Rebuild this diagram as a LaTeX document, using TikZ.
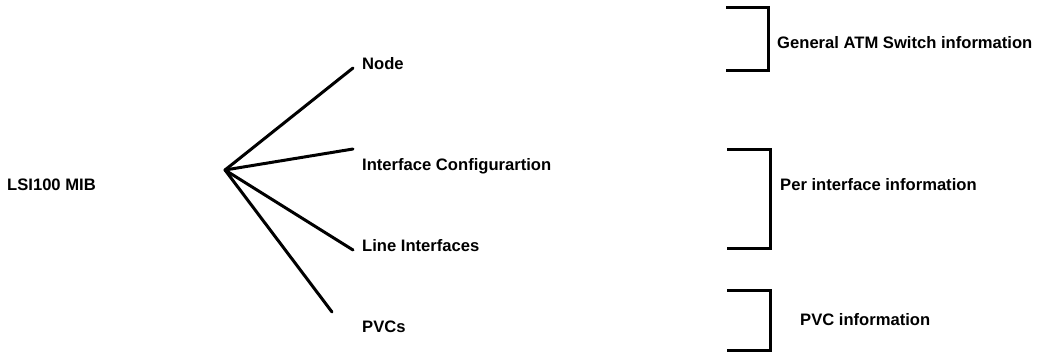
\documentclass[tikz,border=0pt]{standalone}
\usepackage{fontspec}
\setmainfont{Liberation Sans}
\tikzset{
  lbl/.style={anchor=west, inner sep=0pt, font=\fontsize{16.6}{18}\selectfont\bfseries},
  branch/.style={line width=3pt, line cap=round},
  brk/.style={line width=3pt}
}
\begin{document}
\begin{tikzpicture}[x=1pt,y=-1pt]
\useasboundingbox (0,0) rectangle (1048,353);
% labels
\node[lbl] (mib) at (7,185) {LSI100 MIB};
\node[lbl] (node) at (362,64) {Node};
\node[lbl] (ifc) at (362,166) {Interface Configurartion};
\node[lbl] (line) at (362,246) {Line Interfaces};
\node[lbl] (pvc) at (362,327) {PVCs};
\node[lbl] (gen) at (777,43) {General ATM Switch information};
\node[lbl] (per) at (780,185) {Per interface information};
\node[lbl] (pvci) at (800,320) {PVC information};
% hub and branch ends
\coordinate (hub) at (225,170);
\coordinate (eNode) at (353,68);
\coordinate (eIfc) at (353,149);
\coordinate (eLine) at (353,250);
\coordinate (ePvc) at (332,312);
\draw[branch] (hub) -- (eNode);
\draw[branch] (hub) -- (eIfc);
\draw[branch] (hub) -- (eLine);
\draw[branch] (hub) -- (ePvc);
% brackets
\draw[brk] (726,8) -- (768,8) -- (768,70) -- (726,70);
\draw[brk] (727,149) -- (770,149) -- (770,248) -- (727,248);
\draw[brk] (727,290) -- (770,290) -- (770,350) -- (727,350);
\end{tikzpicture}
\end{document}
